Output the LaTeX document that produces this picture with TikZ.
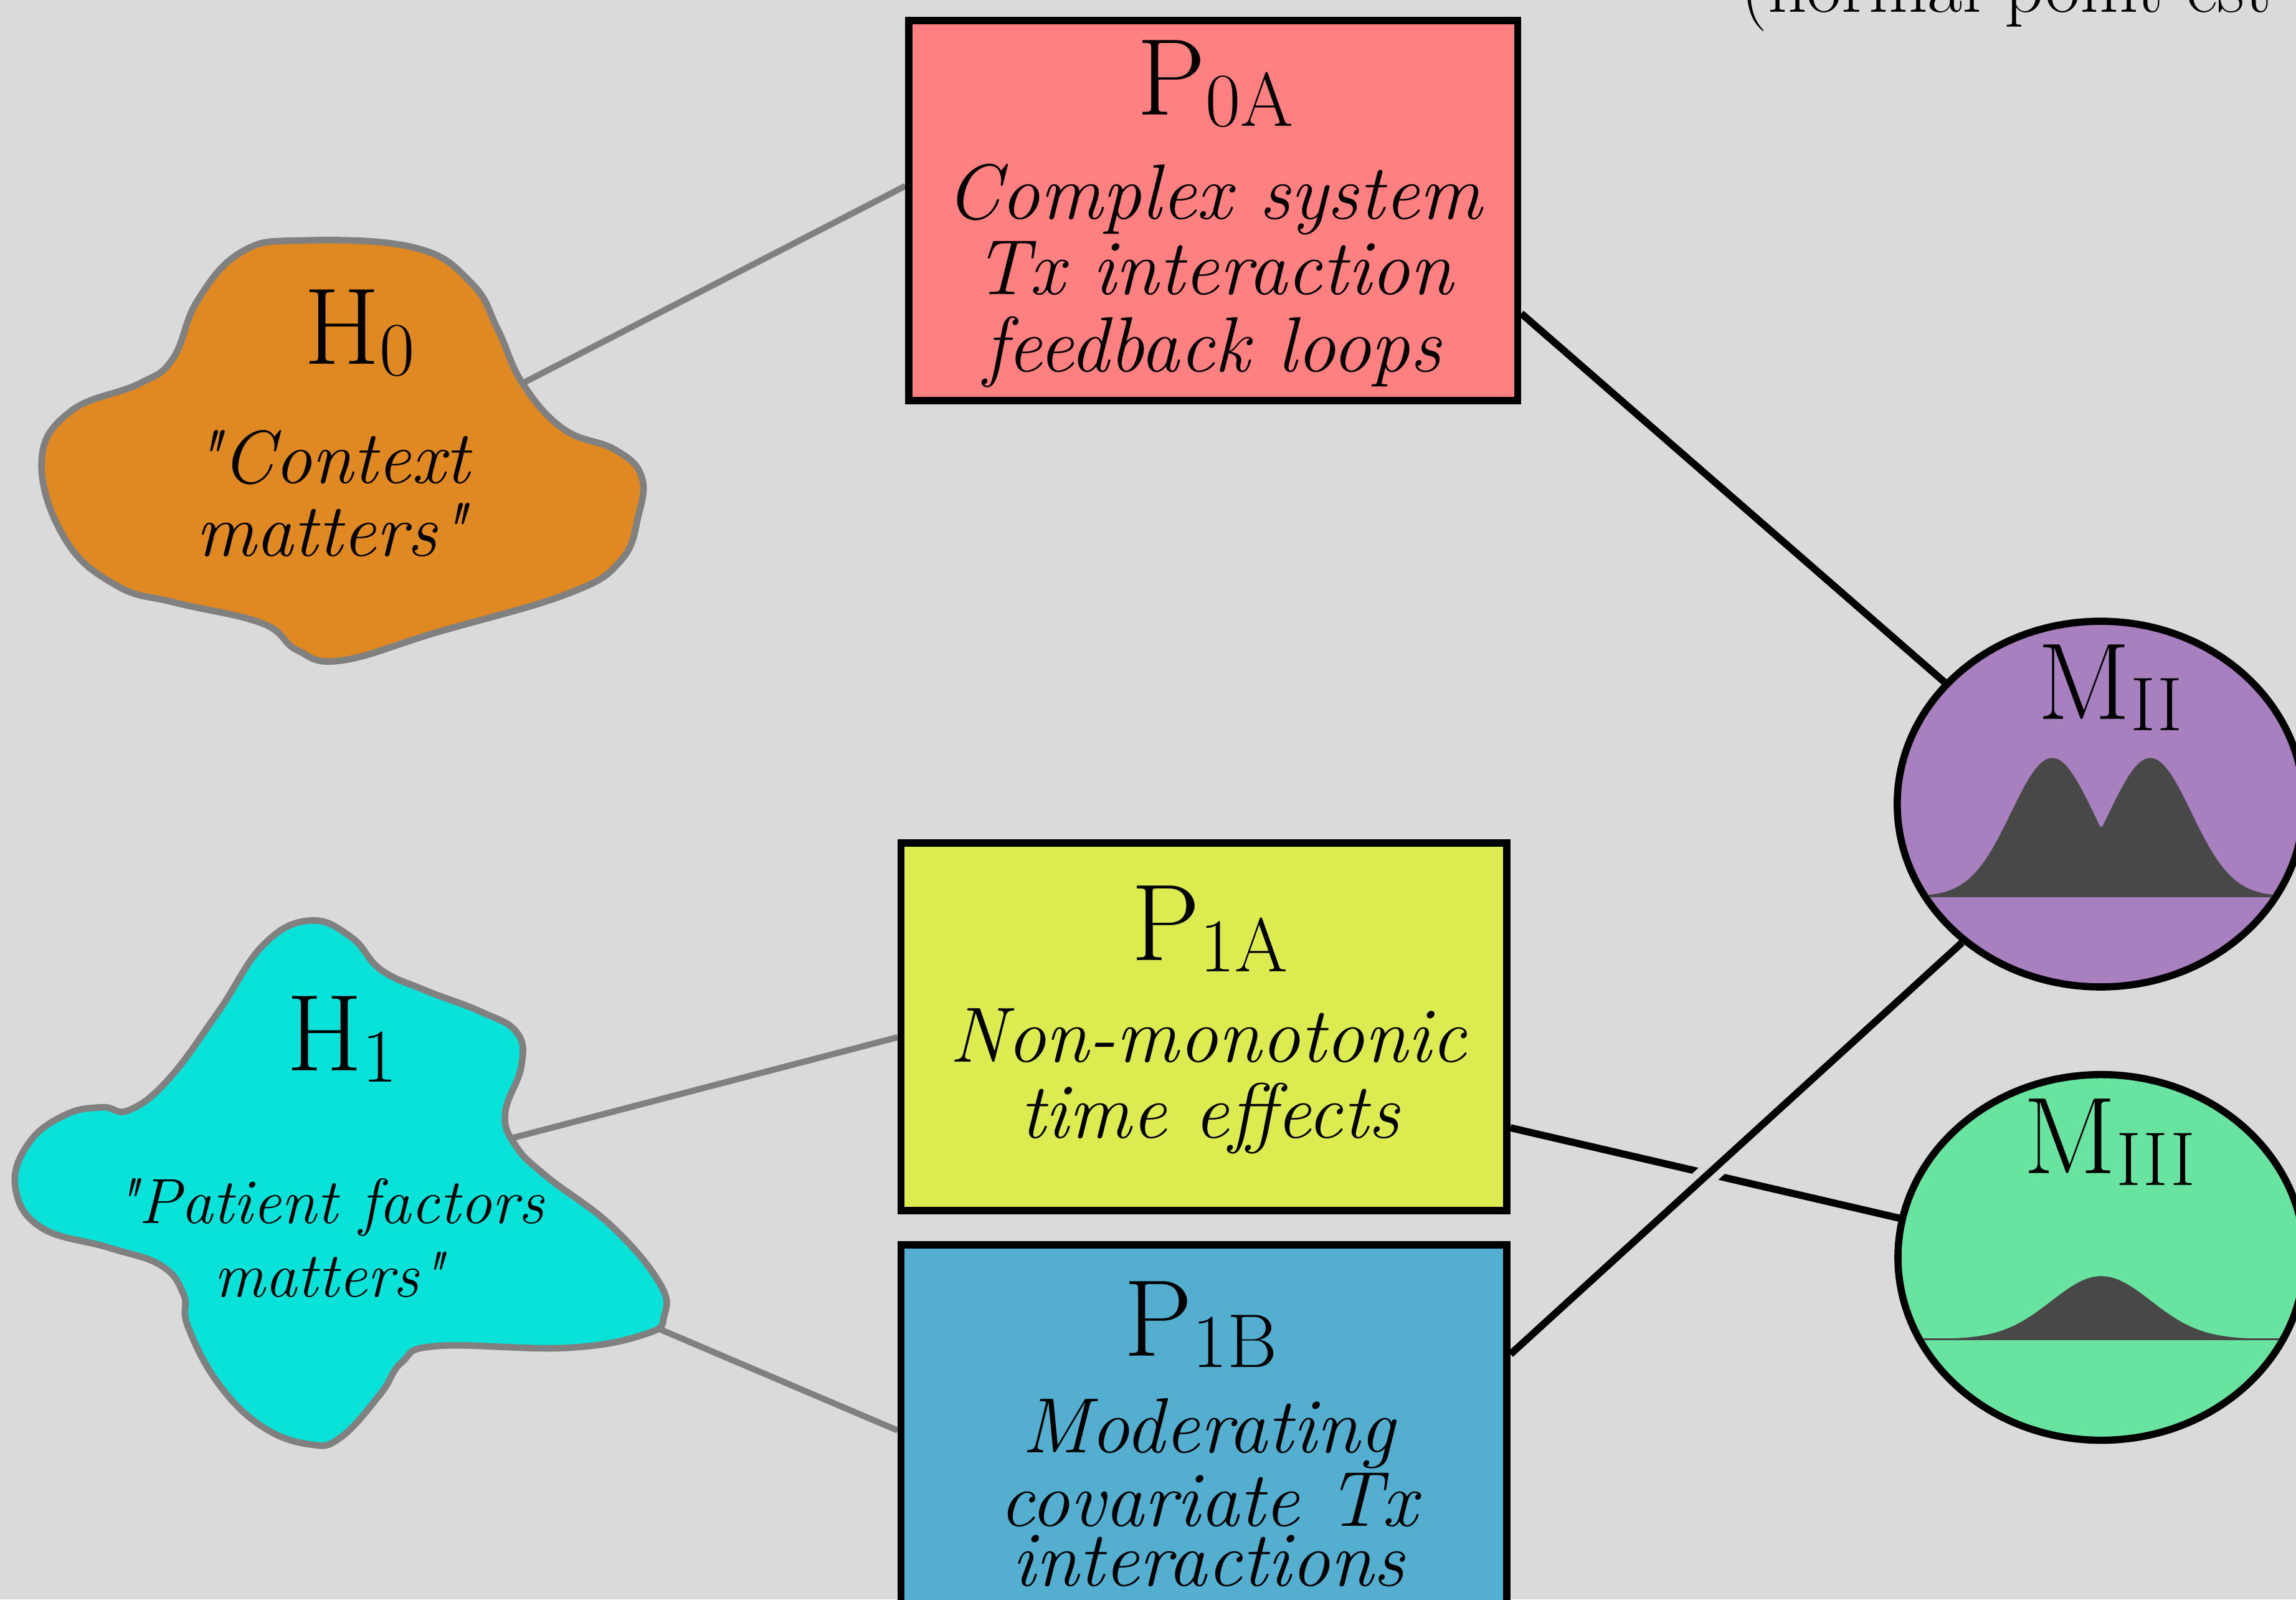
\documentclass[tikz,border=0pt]{standalone}
\usepackage{fontspec}
\setmainfont{Latin Modern Roman}[Ligatures=TeXOff]
\usetikzlibrary{shapes.geometric}
\definecolor{bgc}{RGB}{218,218,218}
\definecolor{pzero}{RGB}{255,128,128}
\definecolor{poneA}{RGB}{220,236,80}
\definecolor{poneB}{RGB}{84,174,208}
\definecolor{mtwo}{RGB}{168,128,192}
\definecolor{mthree}{RGB}{104,228,160}
\definecolor{hzero}{RGB}{224,136,34}
\definecolor{hone}{RGB}{8,226,216}
\definecolor{distc}{RGB}{72,72,72}
\definecolor{grayline}{RGB}{128,128,128}
\newcommand{\biglbl}[2]{{\fontsize{53}{53}\selectfont #1}\raisebox{-5.5pt}{\fontsize{37}{37}\selectfont #2}}
\pgfdeclarelayer{bgl}\pgfdeclarelayer{lines}\pgfsetlayers{bgl,lines,main}
\begin{document}
\begin{tikzpicture}[x=0.025cm,y=-0.025cm,
 box/.style={draw=black, line width=3.5pt, rectangle, inner sep=0pt},
 mcirc/.style={draw=black, line width=3.5pt, ellipse, inner sep=0pt, minimum width=6.94cm, minimum height=6.24cm},
 blob/.style={draw=grayline, line width=3.2pt},
 hline/.style={draw=grayline, line width=3pt},
 mline/.style={draw=black, line width=3.5pt},
 gapline/.style={draw=bgc, line width=10.7pt},
 ttl/.style={anchor=base, inner sep=0pt},
 itx/.style={anchor=base, inner sep=0pt, font=\fontsize{38}{38}\selectfont\itshape},
 qtA/.style={anchor=base, inner sep=0pt, font=\fontsize{36.5}{36.5}\selectfont\itshape},
 qtB/.style={anchor=base, inner sep=0pt, font=\fontsize{31}{31}\selectfont\itshape}]
\useasboundingbox (0,0) rectangle (1568,1092);
\begin{pgfonlayer}{bgl}
\fill[bgc] (0,0) rectangle (1568,1092);
\end{pgfonlayer}

% blobs
\draw[blob, fill=hzero] plot[smooth cycle, tension=0.7] coordinates {(205.9,164.2) (283.5,169.2) (322.3,193.7) (340,225) (357,262) (385,293) (420,307) (438,325) (436,352) (423.8,382.9) (387.9,405.3) (298.4,431.7) (232.8,451.0) (202.9,443.9) (179.1,425.6) (119.4,411.4) (80,400) (44.8,368.6) (28.4,315.7) (48,281) (95,262) (118,245) (135,205) (165,172)};
\draw[blob, fill=hone] plot[smooth cycle, tension=0.7] coordinates {(211.9,628.5) (240,640) (260,662) (290,676) (328.3,690.7) (353,705) (356,728) (345,760) (352,782) (373.0,803.0) (417.8,837.2) (450.6,876.3) (453.6,898.3) (441.7,910.5) (387.9,920.2) (298.4,919.0) (274.5,930.0) (259.6,952.0) (232.8,981.3) (211.9,986.2) (179.1,974.0) (149.2,944.7) (128.3,905.6) (125.3,883.6) (110,864) (74.6,851.9) (28,838) (10.4,810) (20,780) (45,761) (70,756) (88,758) (115,737) (149.2,690.7) (180,645)};

% boxes and ellipses
\node[box, fill=pzero, minimum width=10.39cm, minimum height=6.485cm] (P0A) at (828.6,143.8) {};
\node[box, fill=poneA, minimum width=10.34cm, minimum height=6.275cm] (P1A) at (822.25,701) {};
\node[box, fill=poneB, minimum width=10.34cm, minimum height=8.75cm] (P1B) at (822.25,1025) {};
\node[mcirc, fill=mtwo] (MII) at (1434.5,549) {};
\node[mcirc, fill=mthree] (MIII) at (1435,858.5) {};

% distributions
\begin{scope}
\clip (MII.center) ellipse [x radius=3.408cm, y radius=3.058cm];
\fill[distc] (1290,612) -- plot[domain=1290:1580, samples=220] (\x, {612-94.5*max(exp(-0.5*pow((\x-1401.5)/28,2)), exp(-0.5*pow((\x-1468.5)/28,2)))}) -- (1580,612) -- cycle;
\draw[distc, line width=0.8pt] (1290,612) -- (1580,612);
\end{scope}
\begin{scope}
\clip (MIII.center) ellipse [x radius=3.408cm, y radius=3.058cm];
\fill[distc] (1290,914.3) -- plot[domain=1290:1580, samples=220] (\x, {914.3-43*exp(-0.5*pow((\x-1435)/34,2))}) -- (1580,914.3) -- cycle;
\draw[distc, line width=0.8pt] (1290,914.3) -- (1580,914.3);
\end{scope}

% connectors (behind shapes)
\begin{pgfonlayer}{lines}
\coordinate (h0c) at (300,291);
\coordinate (h1c) at (300,790);
\coordinate (h1d) at (400,886);
\draw[hline] (h0c) -- ([yshift=0.42cm]P0A.west);
\draw[hline] (h1c) -- ([yshift=-0.18cm]P1A.west);
\draw[hline] (h1d) -- ([yshift=1.21cm]P1B.west);
\draw[mline] ([yshift=-1.755cm]P0A.east) -- (MII.142.9);
\draw[mline] ([yshift=-1.725cm]P1A.east) -- (MIII.169.5);
\draw[gapline] ([yshift=2.51cm]P1B.east) -- (MII.225);
\draw[mline] ([yshift=2.51cm]P1B.east) -- (MII.225);
\end{pgfonlayer}

% texts
\node[ttl] (tP0A) at (830,78.4) {\biglbl{P}{0A}};
\node[itx] (P0Aa) at (829,149.4) {Complex system};
\node[itx] (P0Ab) at (829,201) {Tx interaction};
\node[itx] (P0Ac) at (828,253.6) {feedback loops};

\node[ttl] (tP1A) at (826,655.6) {\biglbl{P}{1A}};
\node[itx] (P1Aa) at (825,725) {Non-monotonic};
\node[itx] (P1Ab) at (826,777) {time effects};

\node[ttl] (tP1B) at (820,925.7) {\biglbl{P}{1B}};
\node[itx] (P1Ba) at (825,992) {Moderating};
\node[itx] (P1Bb) at (825,1042) {covariate Tx};
\node[itx] (P1Bc) at (825,1083) {interactions};

\node[ttl] (H0) at (245.5,248.6) {\biglbl{H}{0}};
\node[qtA] (H0a) at (226,330) {"Context};
\node[qtA] (H0b) at (226,379.8) {matters"};

\node[ttl] (H1) at (233.5,731) {\biglbl{H}{1}};
\node[qtB] (H1a) at (224.6,835.3) {"Patient factors};
\node[qtB] (H1b) at (224.6,885.6) {matters"};

\node[ttl] (tMII) at (1441,491) {\biglbl{M}{II}};
\node[ttl] (tMIII) at (1440.6,801.4) {\biglbl{M}{III}};

\node[anchor=base west, inner sep=0pt, font=\fontsize{37}{37}\selectfont] (est) at (1188.6,8.2) {(normal point est};
\end{tikzpicture}
\end{document}
